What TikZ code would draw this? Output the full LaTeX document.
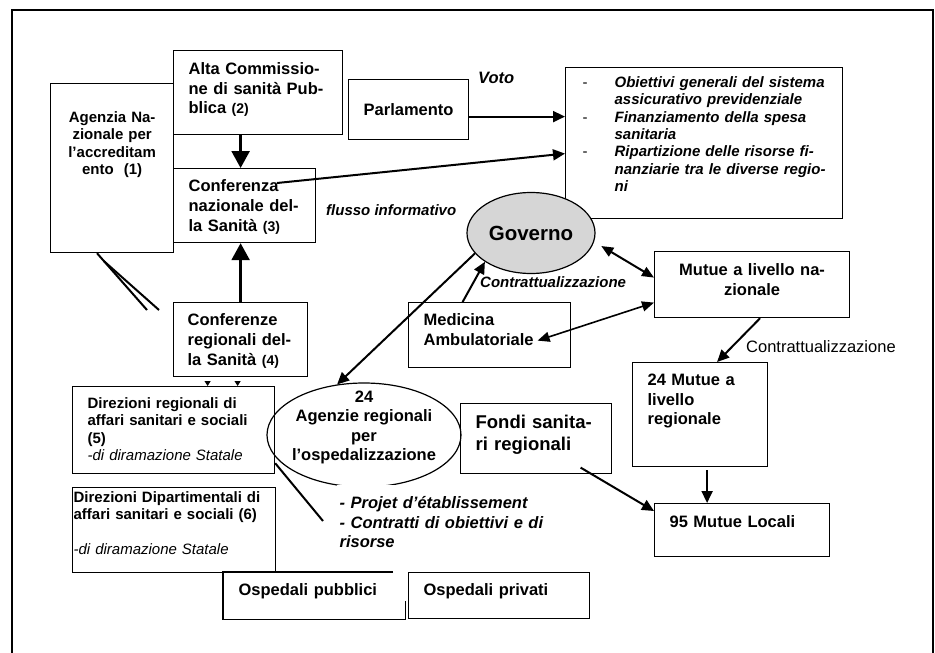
\documentclass[tikz,border=0pt]{standalone}
\usepackage{fontspec}
\setmainfont{Liberation Sans}
\usetikzlibrary{arrows.meta,shapes.geometric}

\definecolor{govgray}{RGB}{214,214,214}
\newcommand{\fmain}{\fontsize{16.5}{19.5}\selectfont}
\newcommand{\fsmall}{\fontsize{15}{17.3}\selectfont}
\newcommand{\fnum}{\fontsize{14}{17}\selectfont}
\newcommand{\trattino}{\makebox[32pt][l]{\normalfont\fsmall -}}
\newcommand{\rientro}{\hspace*{32pt}}

\begin{document}
\begin{tikzpicture}[
    x=1pt, y=-1pt,
    box/.style={rectangle, draw, line width=1.2pt, anchor=north west, inner xsep=15pt, inner ysep=0pt, align=left, font=\fmain\bfseries},
    oval/.style={ellipse, draw, line width=1.2pt, inner sep=0pt, font=\fmain\bfseries},
    lbl/.style={inner sep=0pt, font=\fsmall\bfseries\itshape},
    arrow/.style={line width=2pt, -{Triangle[length=12pt,width=11pt]}},
    bigarrow/.style={line width=2.5pt, -{Triangle[length=17pt,width=18pt]}},
    dblarrow/.style={line width=2pt, {Triangle[length=12pt,width=10pt]}-{Triangle[length=12pt,width=10pt]}},
    wire/.style={line width=2pt}
]
    \useasboundingbox (0,0) rectangle (935,653);
    \draw[line width=1.2pt] (12,653) -- (12,10) -- (933,10) -- (933,653);

    % national level
    \node[box, text width=115pt, inner xsep=4pt, align=center, font=\fsmall\bfseries, text height=39pt, text depth=130pt] (agenzia) at (50,83) {Agenzia Na-\\zionale per\\l'accreditam\\ento~~(1)};
    \node[box, text width=139pt, text height=24pt, text depth=60pt] (alta) at (173,50) {Alta Commissio-\\ne di sanità Pub-\\blica {\fnum(2)}};
    \node[box, text width=112pt, text height=23pt, text depth=51pt, font=\fontsize{16.5}{20}\selectfont\bfseries] (confnaz) at (173,168) {Conferenza\\nazionale del-\\la Sanità {\fnum(3)}};
    \node[box, inner xsep=14pt, text width=106pt, text height=23pt, text depth=51pt, font=\fontsize{16.5}{20}\selectfont\bfseries] (confreg) at (173,302) {Conferenze\\regionali del-\\la Sanità {\fnum(4)}};
    \node[box, inner xsep=0pt, minimum width=120pt, minimum height=60pt, align=center] (parlamento) at (348,79) {Parlamento};
    \node[box, inner xsep=17pt, text width=243pt, text height=20pt, text depth=131pt, font=\fsmall\bfseries\itshape] (obiettivi) at (565,67) {\trattino Obiettivi generali del sistema\\\rientro assicurativo previdenziale\\\trattino Finanziamento della spesa\\\rientro sanitaria\\\trattino Ripartizione delle risorse fi-\\\rientro nanziarie tra le diverse regio-\\\rientro ni};
    \node[lbl, font=\fmain\bfseries\itshape, anchor=base west] (voto) at (478,83) {Voto};
    \node[lbl, anchor=base west] (flusso) at (326,215) {flusso informativo};
    \node[oval, fill=govgray, minimum width=128pt, minimum height=81pt, font=\fontsize{20.5}{24}\selectfont\bfseries] (governo) at (531,233) {Governo};
    \node[lbl, anchor=base west] (contrgov) at (480,287) {Contrattualizzazione};
    \node[box, inner xsep=10pt, text width=175pt, align=center, text height=24pt, text depth=42pt] (mutuenaz) at (654,251) {Mutue a livello na-\\zionale};
    \node[box, text width=132pt, text height=23pt, text depth=42pt, font=\fontsize{16.5}{20}\selectfont\bfseries] (medicina) at (408,302) {Medicina\\Ambulatoriale};

    % regional and local level
    \node[oval, minimum width=194pt, minimum height=104pt] (agenzie) at (364,435) {\raisebox{3pt}[0pt][0pt]{\makebox[0pt]{\parbox[c]{170pt}{\centering 24\\Agenzie regionali\\per\\l'ospedalizzazione}}}};
    \node[box, text width=172pt, text height=22pt, text depth=65pt, font=\fsmall\bfseries] (dirreg) at (72,386) {Direzioni regionali di\\affari sanitari e sociali\\(5)\\{\normalfont\fsmall\itshape -di diramazione Statale}};
    \node[box, inner xsep=1pt, text width=201pt, text height=15pt, text depth=70pt, font=\fsmall\bfseries] (dirdip) at (72,487) {Direzioni Dipartimentali di\\affari sanitari e sociali (6)\\[17.3pt]{\normalfont\fsmall\itshape -di diramazione Statale}};
    \node[box, draw=none, fill=white, inner xsep=3pt, text width=210pt, text height=24pt, text depth=45pt, font=\fmain\bfseries\itshape] (progetto) at (336,484) {- Projet d'établissement\\- Contratti di obiettivi e di\\risorse};
    \node[box, draw=none, text width=151pt, text height=23pt, text depth=23pt] (ospub) at (223,572) {Ospedali pubblici};
    \node[box, text width=151pt, text height=23pt, text depth=23pt] (ospriv) at (408,572) {Ospedali privati};
    \node[box, text width=121pt, text height=25pt, text depth=45pt, font=\fontsize{18.5}{22}\selectfont\bfseries] (fondi) at (460,403) {Fondi sanita-\\ri regionali};
    \node[box, text width=105pt, text height=23pt, text depth=81pt] (mutuereg) at (632,362) {24 Mutue a\\livello\\regionale};
    \node[box, text width=145pt, text height=24pt, text depth=29pt] (mutueloc) at (654,503) {95 Mutue Locali};
    \node[lbl, font=\fmain, anchor=base west] (contrmutue) at (746,352) {Contrattualizzazione};

    \coordinate (flussostart) at (277,183);
    \coordinate (cunea) at (147,310);
    \coordinate (cuneab) at (159,310);
    \coordinate (dirfine) at (323,521);

    \draw[line width=1.2pt] ([xshift=-12pt]ospub.north east) -- (ospub.north west) -- (ospub.south west) -- (ospub.south east) -- ([yshift=18pt]ospub.south east);

    \draw[bigarrow] (alta.south -| confreg.north) -- (confnaz.north -| confreg.north);
    \draw[bigarrow] (confreg.north) -- (confnaz.south -| confreg.north);
    \draw[arrow] ([yshift=-7pt]parlamento.east) -- ([yshift=-7pt]parlamento.east -| obiettivi.west);
    \draw[arrow] (flussostart) -- ([yshift=-10.5pt]obiettivi.west);
    \draw[dblarrow] ([xshift=9pt]governo.348) -- ([yshift=7pt]mutuenaz.west);
    \draw[dblarrow, line width=1.6pt] ([xshift=48pt,yshift=-5.5pt]medicina.center) -- ([yshift=-18pt]mutuenaz.west);
    \draw[arrow] ([xshift=-27pt]medicina.north) -- (governo.212);
    \draw[arrow] (governo.200) -- (agenzie.118);
    \draw[arrow] ([xshift=8pt]mutuenaz.south) -- ([xshift=17pt]mutuereg.north);
    \draw[arrow, shorten <=3pt] ([xshift=7pt]mutuereg.south) -- ([xshift=7pt]mutuereg.south |- mutueloc.north);
    \draw[arrow] ([xshift=44.5pt,yshift=-29pt]fondi.center) -- ([yshift=-8pt]mutueloc.north west);
    \draw[wire] ([xshift=47pt]agenzia.south west) -- (cunea);
    \draw[wire] ([xshift=54pt,yshift=-8pt]agenzia.south west) -- (cuneab);
    \draw[wire] ([yshift=11pt]dirreg.south east) -- (dirfine);
    \foreach \dx in {-33,-3}
        \draw[-{Triangle[length=5pt,width=6pt]}, line width=1pt] ([xshift=\dx pt, yshift=-5pt]confreg.south) -- ([xshift=\dx pt]confreg.south |- dirreg.north);
\end{tikzpicture}
\end{document}
